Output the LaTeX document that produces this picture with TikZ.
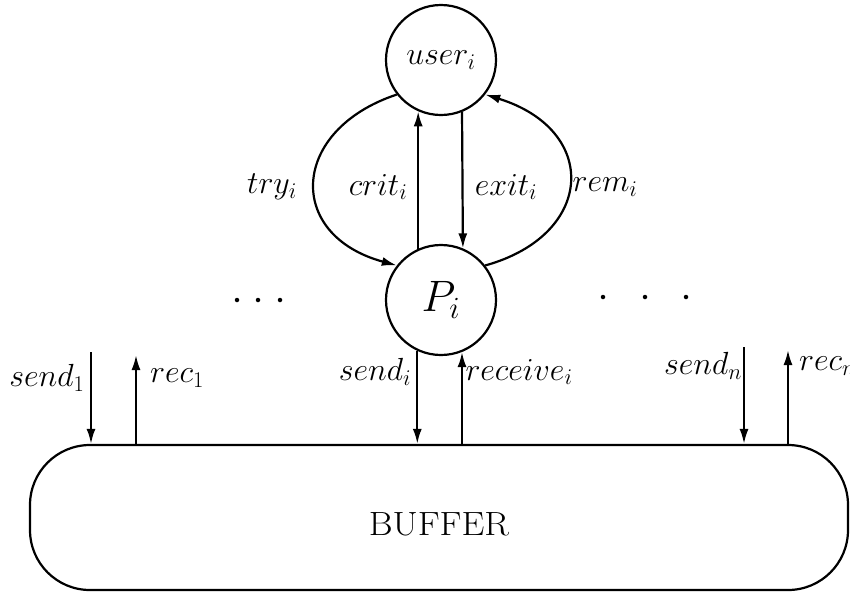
\RequirePackage{fix-cm}
\documentclass[tikz,border=0pt]{standalone}
\usetikzlibrary{arrows.meta}
\begin{document}
\begin{tikzpicture}[x=1pt,y=-1pt,
  ln/.style={line width=2.2pt},
  arr/.style={ln,-{Latex[length=15pt,width=9pt]}},
  proc/.style={circle,draw,line width=2.2pt,minimum size=110pt,inner sep=0pt},
  lbl/.style={inner sep=0pt,font=\fontsize{32}{38}\selectfont},
  dot/.style={fill,circle,inner sep=0pt,minimum size=4.5pt}]
\useasboundingbox (0,0) rectangle (850,592);
% nodes
\node[proc,font=\fontsize{32}{38}\selectfont] (user) at (441,60) {$user_i$};
\node[proc,font=\fontsize{44}{50}\selectfont] (P) at (441,300) {$P_i$};
\node[draw,line width=2.2pt,rounded corners=60pt,minimum width=818pt,minimum height=145pt,inner sep=0pt,
      font=\fontsize{28}{33}\selectfont,text height=36pt,text depth=0pt] (buf) at (439,517.5) {\scalebox{1.3}[1.2]{BUFFER}};
% try / rem curves
\draw[arr] (user.218) .. controls (290,130) and (285,235) .. (P.142);
\draw[arr] (P.38) .. controls (595,235) and (600,130) .. (user.322);
% crit / exit
\draw[arr] (P.114) -- (user.246);
\draw[arr] (user.292.5) -- (P.67.5);
% send_i / receive_i
\draw[arr] (P.245) -- (P.245 |- buf.north);
\draw[arr] (P.292.5 |- buf.north) -- (P.292.5);
% outer channels
\coordinate (s1) at (91,352);
\coordinate (r1) at (136,355);
\coordinate (sn) at (744,347);
\coordinate (rn) at (788,350);
\draw[arr] (s1) -- (s1 |- buf.north);
\draw[arr] (r1 |- buf.north) -- (r1);
\draw[arr] (sn) -- (sn |- buf.north);
\draw[arr] (rn |- buf.north) -- (rn);
% labels
\node[lbl] (ltry) at (272,187) {$try_i$};
\node[lbl] (lcrit) at (378,187) {$crit_i$};
\node[lbl] (lexit) at (506,187) {$exit_i$};
\node[lbl] (lrem) at (605,187) {$rem_i$};
\node[lbl] (ls1) at (47,378) {$send_1$};
\node[lbl] (lr1) at (177,378) {$rec_1$};
\node[lbl] (lsi) at (375,372) {$send_i$};
\node[lbl] (lri) at (519,372) {$receive_i$};
\node[lbl] (lsn) at (703,366) {$send_n$};
\node[lbl,anchor=west] (lrn) at (799,366) {$rec_n$};
% dots
\node[dot] (d1) at (237,300) {};
\node[dot] (d2) at (258,300) {};
\node[dot] (d3) at (280,300) {};
\node[dot] (d4) at (603,297) {};
\node[dot] (d5) at (645,297) {};
\node[dot] (d6) at (686,297) {};
\end{tikzpicture}
\end{document}
